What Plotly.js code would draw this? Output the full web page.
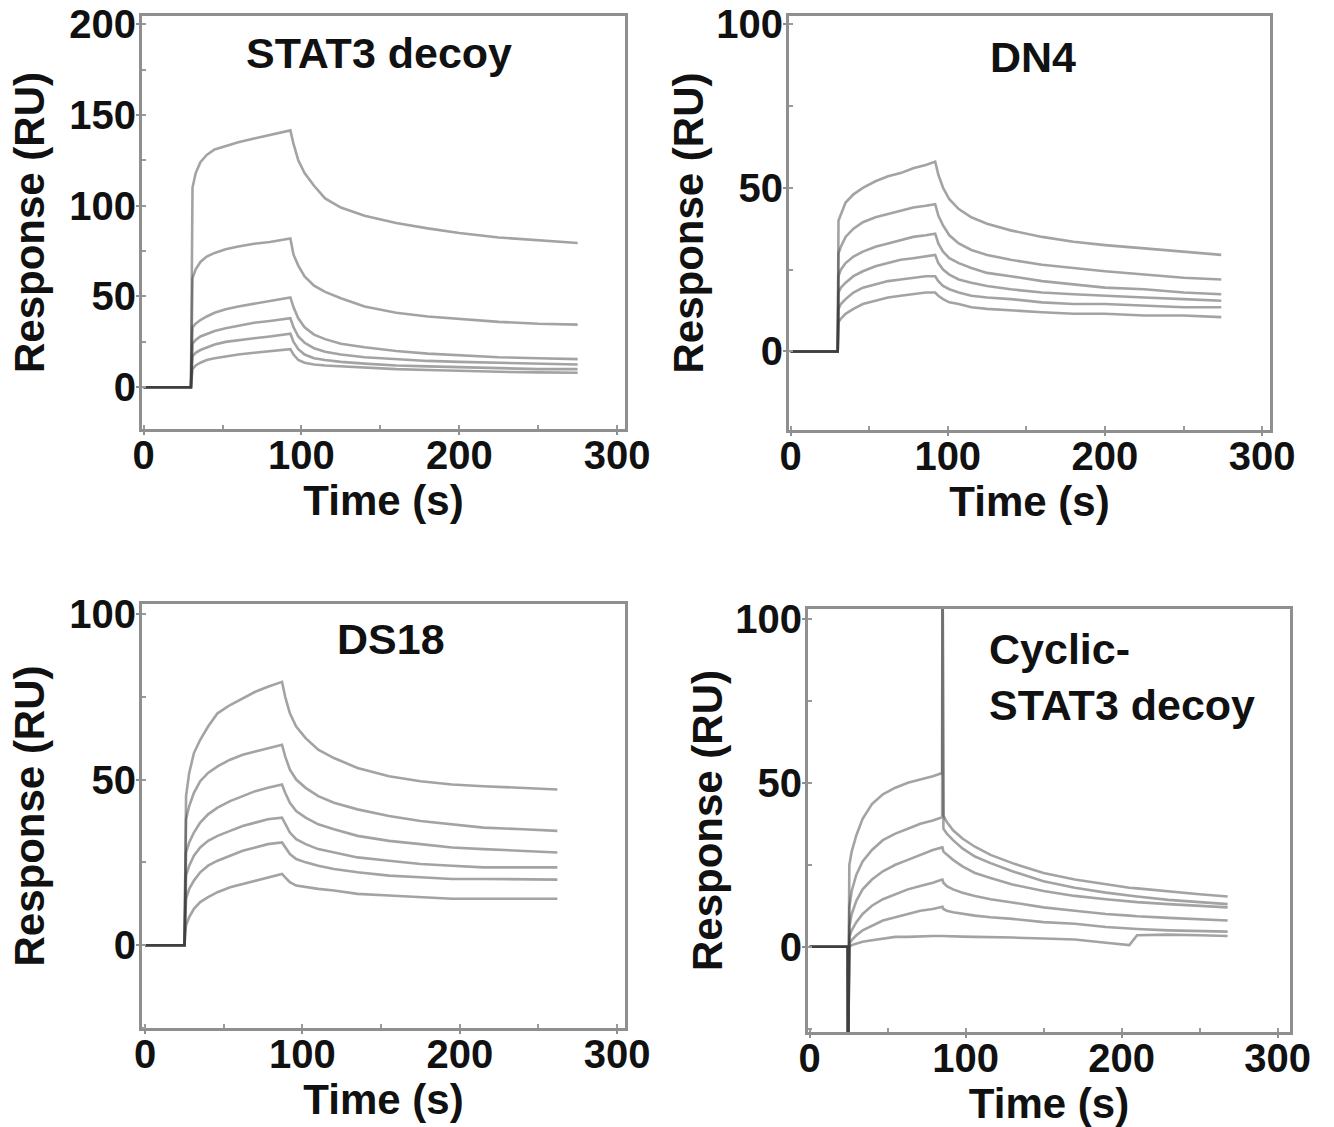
<!DOCTYPE html>
<html>
<head>
<meta charset="utf-8">
<script src="https://cdn.plot.ly/plotly-3.0.1.min.js"></script>
<style>
  html, body { margin: 0; padding: 0; background: #ffffff; }
  #chart { width: 1334px; height: 1127px; }
</style>
</head>
<body>
<div id="chart"></div>
<script>
// ---------- Panel titles / axis labels ----------
const panelTitles = ["STAT3 decoy", "DN4", "DS18", "Cyclic-<br>STAT3 decoy"];
const xTitle = "Time (s)";
const yTitle = "Response (RU)";
const xTickVals = [0, 100, 200, 300];
const yTickValsA = [0, 50, 100, 150, 200];
const yTickValsB = [0, 50, 100];

// ---------- Panel A: STAT3 decoy ----------
const timeA = [0, 30, 31, 33, 36, 40, 45, 52, 60, 70, 80, 88, 93, 95, 98, 102, 108, 115, 125, 140, 160, 180, 200, 225, 250, 275];
const stat3_1 = [0,0,110,118,124,128,131,133,135,137,139,140.5,141.5,134,125,118,111,104,99,94.5,90.5,87.5,85,82.5,81,79.5];
const stat3_2 = [0,0,60,65,69,72,74,76,77.5,79,80,81,82,73,67,61,56,52.5,49,44.5,41,39,37.5,36,35,34.5];
const stat3_3 = [0,0,33,35,37,39,41,43,44.5,46,47.5,48.5,49.5,44,38,33,29,26.5,24,22,20,18.5,17.5,16.5,16,15.5];
const stat3_4 = [0,0,24,26,28,29.5,31,32.5,34,35.5,36.5,37.5,38,33,28,24.5,21.5,19.5,18,16.5,15.5,14.5,14,13.5,13,12.5];
const stat3_5 = [0,0,17,19,20.5,22,23.5,25,26,27,28,29,29.5,25,21,18,16,15,14,13,12,11.5,11,10.5,10,10];
const stat3_6 = [0,0,10,12,13.5,15,16,17,18,19,20,20.5,21,18,15,13.5,12.5,12,11.5,11,10,9.5,9,8.5,8.2,8];

// ---------- Panel B: DN4 ----------
const timeB = [0, 30, 30.5, 32, 35, 40, 46, 54, 62, 70, 78, 86, 92, 94, 97, 101, 107, 115, 125, 140, 160, 180, 200, 225, 250, 274];
const dn4_1 = [0,0,40,42,45.5,48,50,52,53.5,54.5,56,57,58,54,50,46.5,43.5,41,39,37,35,33.5,32.5,31.5,30.5,29.5];
const dn4_2 = [0,0,30,32,35,37.5,39.5,41,42,43,44,44.5,45,41.5,38.5,35.5,33,31,29.5,28,26.5,25.5,24.5,23.5,22.5,22];
const dn4_3 = [0,0,23,25,27,29,30.5,32,33,34,35,35.5,36,33,30.5,28.5,27,25.5,24,23,21.5,20.5,19.5,19,18,17.5];
const dn4_4 = [0,0,18,19.5,21,23,24.5,26,27,28,28.5,29,29.5,27,25,23.5,22,21,20,19,18,17.5,17,16.5,16,15.5];
const dn4_5 = [0,0,13,14.5,16,18,19.5,20.5,21.5,22,22.5,23,23,21.5,20,19,18,17,16.5,16,15,14.5,14.5,14,13.5,13.5];
const dn4_6 = [0,0,9,10,11.5,13,14.5,15.5,16.5,17,17.5,18,18,17,16,15,14.5,13.5,13,12.5,12,11.5,11.5,11,11,10.5];

// ---------- Panel C: DS18 ----------
const timeC = [0, 25, 26, 28, 31, 35, 40, 46, 54, 62, 70, 78, 87, 89, 92, 96, 102, 110, 120, 135, 155, 175, 195, 215, 240, 262];
const ds18_1 = [0,0,45,52,58,62,66,70,72.5,74.5,76.5,78,79.5,75,70,66,62.5,59,56.5,53.5,51,49.5,48.5,48,47.5,47];
const ds18_2 = [0,0,38,42,46,49.5,52,54,56,57.5,58.5,59.5,60.5,57,53,50,47.5,45,43,41,39,37.5,36.5,35.5,35,34.5];
const ds18_3 = [0,0,28,31,34,37,39.5,41.5,43.5,45,46.5,47.5,48.5,46,43,40.5,38.5,36.5,35,33,31.5,30.5,29.5,29,28.5,28];
const ds18_4 = [0,0,21,24,27,29.5,31.5,33,34.5,36,37,38,38.5,36.5,34,32,30.5,29,28,26.5,25.5,24.5,24,23.5,23.5,23.5];
const ds18_5 = [0,0,14,17,19.5,22,24,25.5,27,28.5,29.5,30.5,31,29.5,27.5,26,25,24,23,22,21,20.5,20,20,20,19.8];
const ds18_6 = [0,0,6,8.5,11,13,14.5,16,17.5,18.5,19.5,20.5,21.5,20.5,19,18,17.5,17,16.5,15.5,15,14.5,14,14,14,14];

// ---------- Panel D: Cyclic-STAT3 decoy ----------
const timeD = [0, 24.5, 24.6, 25.5, 27, 30, 34, 40, 47, 55, 63, 71, 79, 85, 85.2, 85.8, 88, 92, 98, 106, 116, 130, 150, 170, 190, 205, 210, 230, 250, 268];
const cyc_1 = [0,0,-40,25,29,34,39,43.5,46.5,48.5,50,51,52,53,130,40,38,35.5,33,30.5,28,25.5,22.5,20.5,19,18,17.8,16.8,16,15.3];
const cyc_2 = [0,0,-40,12,17,22,26,29.5,32.5,34.5,36,37.5,38.5,39.5,130,36,34.5,32.5,30,27.5,25.5,23,20,18,16.5,15.5,15.3,14.3,13.5,13];
const cyc_3 = [0,0,-40,6,10,14,17.5,20.5,23,25,26.5,28,29.5,30.3,30.3,29,28,26.5,24.5,22.5,21,19,17,15.5,14.5,13.8,13.6,13,12.5,12];
const cyc_4 = [0,0,-40,3,5,7.5,10,12.5,14.5,16,17.5,18.5,19.5,20.5,20.5,19.5,18.5,17.5,16.5,15.5,14.5,13.5,12,11,10,9.5,9.3,8.8,8.3,8];
const cyc_5 = [0,0,-40,1,2,3.5,5,6.5,8,9,10,11,11.5,12.2,12.2,11.5,11,10.5,10,9.5,9,8.5,7.5,7,6,5.5,5.4,5,4.8,4.6];
const cyc_6 = [0,0,-40,0,0.5,1,1.5,2,2.5,3,3,3.2,3.3,3.3,3.3,3.2,3.2,3.2,3.1,3,3,2.8,2.5,2.2,1.2,0.5,3.5,3.7,3.5,3.3];

// ---------- Build ----------
const panels = [
  { t: timeA, s: [stat3_1, stat3_2, stat3_3, stat3_4, stat3_5, stat3_6], xa: 'x',  ya: 'y'  },
  { t: timeB, s: [dn4_1, dn4_2, dn4_3, dn4_4, dn4_5, dn4_6],             xa: 'x2', ya: 'y2' },
  { t: timeC, s: [ds18_1, ds18_2, ds18_3, ds18_4, ds18_5, ds18_6],       xa: 'x3', ya: 'y3' },
  { t: timeD, s: [cyc_1, cyc_2, cyc_3, cyc_4, cyc_5, cyc_6],             xa: 'x4', ya: 'y4' }
];

const traces = [];
panels.forEach(p => {
  p.s.forEach(vals => {
    traces.push({
      type: 'scatter', mode: 'lines',
      x: p.t, y: vals, xaxis: p.xa, yaxis: p.ya,
      line: { color: 'rgba(60,60,60,0.47)', width: 2.6 },
      hoverinfo: 'skip', showlegend: false
    });
  });
});

const FONT = 'Arial, "Liberation Sans", Helvetica, sans-serif';
const tickFont = { family: FONT, size: 40, color: '#111', weight: 'bold' };
const titleFont = { family: FONT, size: 42, color: '#111', weight: 'bold' };

function xAxis(domain, range, anchor) {
  return {
    domain: domain, range: range, anchor: anchor,
    tickvals: xTickVals, ticktext: xTickVals.map(String),
    showline: true, mirror: true, linecolor: '#8f8f8f', linewidth: 3,
    ticks: 'outside', ticklen: 3, tickwidth: 2, tickcolor: '#8f8f8f',
    minor: { ticks: 'inside', dtick: 50, tick0: 0, ticklen: 4, tickwidth: 2, tickcolor: '#9a9a9a', showgrid: false },
    showgrid: false, zeroline: false,
    tickfont: tickFont, ticklabeloverflow: 'allow', ticklabelstandoff: -14,
    title: { text: xTitle, font: titleFont, standoff: 0 },
    fixedrange: true
  };
}
function yAxis(domain, range, anchor, vals, standoff) {
  return {
    domain: domain, range: range, anchor: anchor,
    tickvals: vals, ticktext: vals.map(String),
    showline: true, mirror: true, linecolor: '#8f8f8f', linewidth: 3,
    ticks: 'outside', ticklen: 3, tickwidth: 2, tickcolor: '#8f8f8f',
    minor: { ticks: 'inside', dtick: 25, tick0: 0, ticklen: 4, tickwidth: 2, tickcolor: '#9a9a9a', showgrid: false },
    showgrid: false, zeroline: false,
    tickfont: tickFont, ticklabeloverflow: 'allow', ticklabelstandoff: -8,
    title: { text: yTitle, font: titleFont, standoff: standoff },
    fixedrange: true
  };
}

const annFont = { family: FONT, size: 43, color: '#111', weight: 'bold' };

const layout = {
  width: 1334, height: 1127,
  margin: { l: 0, r: 0, t: 0, b: 0 },
  paper_bgcolor: '#ffffff', plot_bgcolor: '#ffffff',
  showlegend: false,
  xaxis:  xAxis([0.10645, 0.46852], [-1, 305], 'y'),
  yaxis:  yAxis([0.61934, 0.98580], [-23, 204.5], 'x', yTickValsA, 12),
  xaxis2: xAxis([0.59145, 0.95202], [-1, 305], 'y2'),
  yaxis2: yAxis([0.61846, 0.98580], [-24, 102.5], 'x2', yTickValsB, 0),
  xaxis3: xAxis([0.10645, 0.46852], [-2, 305], 'y3'),
  yaxis3: yAxis([0.08784, 0.46407], [-25, 103], 'x3', yTickValsB, 12),
  xaxis4: xAxis([0.60570, 0.96702], [-1, 308], 'y4'),
  yaxis4: yAxis([0.08429, 0.45963], [-26, 103], 'x4', yTickValsB, 0),
  annotations: [
    { text: panelTitles[0], xref: 'x',  yref: 'y',  x: 149, y: 184, showarrow: false, font: annFont, xanchor: 'center', yanchor: 'middle' },
    { text: panelTitles[1], xref: 'x2', yref: 'y2', x: 154, y: 90,  showarrow: false, font: annFont, xanchor: 'center', yanchor: 'middle' },
    { text: panelTitles[2], xref: 'x3', yref: 'y3', x: 156, y: 92.5, showarrow: false, font: annFont, xanchor: 'center', yanchor: 'middle' },
    { text: panelTitles[3], xref: 'x4', yref: 'y4', x: 114, y: 82.3, showarrow: false, font: annFont, xanchor: 'left', yanchor: 'middle', align: 'left' }
  ]
};

Plotly.newPlot('chart', traces, layout, { displayModeBar: false, staticPlot: true });
</script>
</body>
</html>
